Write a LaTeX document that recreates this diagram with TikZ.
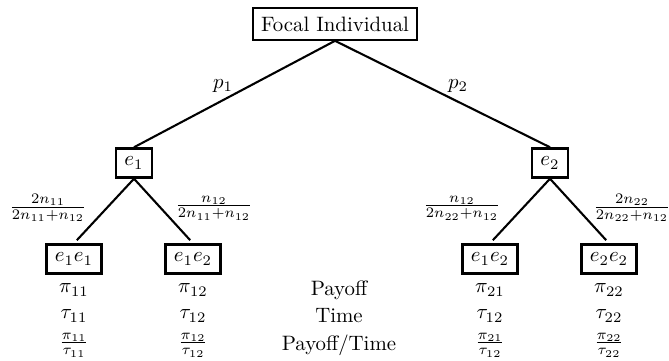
\documentclass[tikz,border=0pt]{standalone}
\usetikzlibrary{shapes.geometric, arrows}
\tikzstyle{choice} = [rectangle, draw=black, line width=1.1pt, inner sep=4pt, minimum height=14pt]
\tikzstyle{branch} = [line width=1pt]
\tikzstyle{prob} = [inner sep=0pt]
\begin{document}
\begin{tikzpicture}[x=0.48pt, y=-0.48pt]
\useasboundingbox (0,0) rectangle (669,361);
\node (focal) [choice] at (335,24) {Focal Individual};
\node (e1)    [choice] at (134,163) {$e_1$};
\node (e2)    [choice] at (550,163) {$e_2$};
\node (e1e1)  [choice] at (74,259)  {$e_1e_1$};
\node (e1e2l) [choice] at (193,259) {$e_1e_2$};
\node (e1e2r) [choice] at (490,259) {$e_1e_2$};
\node (e2e2)  [choice] at (609,259) {$e_2e_2$};
\draw [branch] (focal.south) -- (e1.north);
\draw [branch] (focal.south) -- (e2.north);
\draw [branch, shorten >=2pt] (e1.south) -- (e1e1.north);
\draw [branch, shorten >=2pt] (e1.south) -- (e1e2l.north);
\draw [branch, shorten >=2pt] (e2.south) -- (e1e2r.north);
\draw [branch, shorten >=2pt] (e2.south) -- (e2e2.north);
% branch probabilities
\node (p1) [prob] at (223,86) {$p_1$};
\node (p2) [prob] at (458,86) {$p_2$};
\node (q11) [prob] at (48,208)  {$\frac{2n_{11}}{2n_{11}+n_{12}}$};
\node (q12) [prob] at (214,208) {$\frac{n_{12}}{2n_{11}+n_{12}}$};
\node (q21) [prob] at (462,208) {$\frac{n_{12}}{2n_{22}+n_{12}}$};
\node (q22) [prob] at (632,208) {$\frac{2n_{22}}{2n_{22}+n_{12}}$};
% payoff, time and rate rows
\node (pay)  at (339,290) {Payoff};
\node (time) at (339,316) {Time};
\node (rate) at (339,345) {Payoff/Time};
\node (pay11)  at (74,290)  {$\pi_{11}$};
\node (pay12)  at (193,290) {$\pi_{12}$};
\node (pay21)  at (490,290) {$\pi_{21}$};
\node (pay22)  at (609,290) {$\pi_{22}$};
\node (time11) at (74,316)  {$\tau_{11}$};
\node (time12) at (193,316) {$\tau_{12}$};
\node (time21) at (490,316) {$\tau_{12}$};
\node (time22) at (609,316) {$\tau_{22}$};
\node (rate11) at (74,345)  {$\frac{\pi_{11}}{\tau_{11}}$};
\node (rate12) at (193,345) {$\frac{\pi_{12}}{\tau_{12}}$};
\node (rate21) at (490,345) {$\frac{\pi_{21}}{\tau_{12}}$};
\node (rate22) at (609,345) {$\frac{\pi_{22}}{\tau_{22}}$};
\end{tikzpicture}
\end{document}
